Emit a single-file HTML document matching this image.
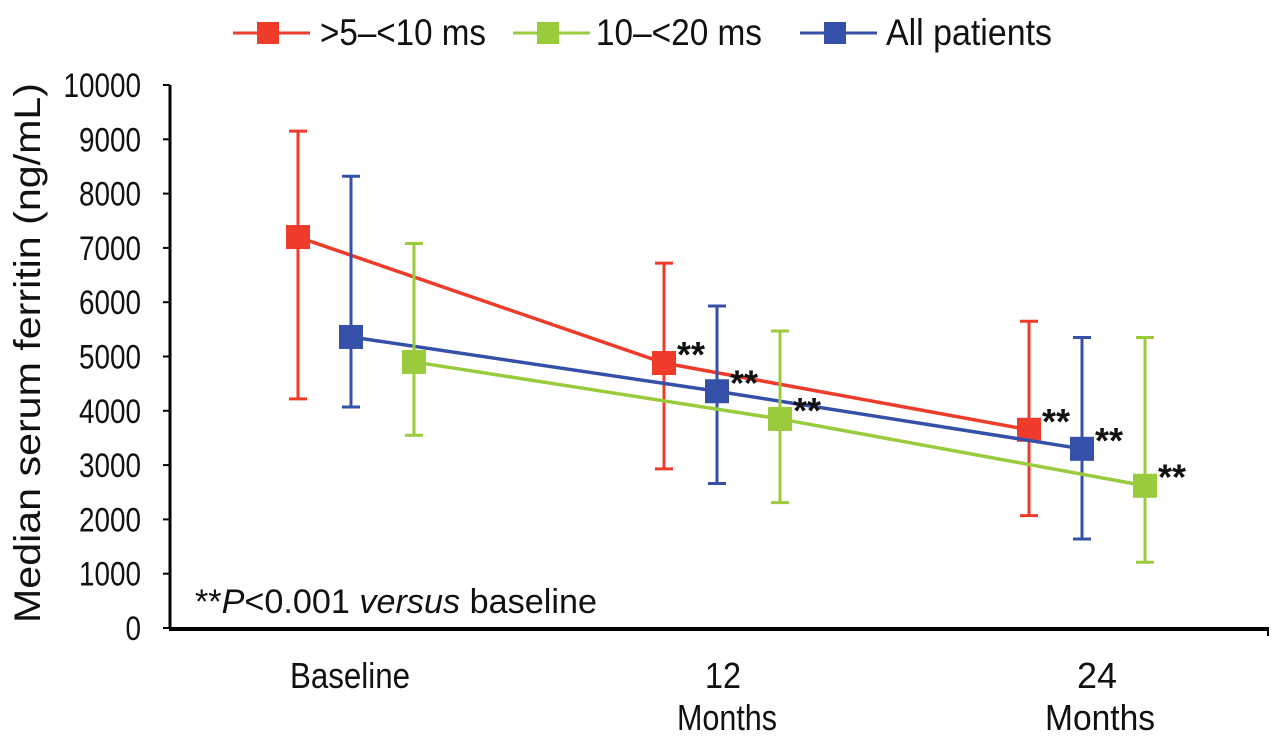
<!DOCTYPE html>
<html><head><meta charset="utf-8"><style>
body{margin:0;background:#fff;}
svg text{font-family:"Liberation Sans",sans-serif;fill:#111;}
</style></head><body>
<svg id="chart" width="1280" height="751" viewBox="0 0 1280 751"></svg>
<script>
const categories=["Baseline","12 Months","24 Months"];
const seriesNames=[">5\u2013<10 ms","10\u2013<20 ms","All patients"];
const redValues=[7200,4880,3650];
const redLow=[4220,2930,2070];
const redHigh=[9150,6720,5650];
const greenValues=[4900,3850,2620];
const greenLow=[3550,2310,1210];
const greenHigh=[7080,5470,5350];
const blueValues=[5360,4360,3300];
const blueLow=[4070,2660,1640];
const blueHigh=[8320,5930,5350];
const yTicks=[0,1000,2000,3000,4000,5000,6000,7000,8000,9000,10000];
const sig=[false,true,true];

const NS="http://www.w3.org/2000/svg";
const svg=document.getElementById('chart');
function el(t,a,p){const e=document.createElementNS(NS,t);for(const k in a)e.setAttribute(k,a[k]);(p||svg).appendChild(e);return e;}
const y=v=>628-v*0.0543;
const catX=[351,717,1082];
const x=(i,off)=>catX[i]+off;
let ax=el('line',{x1:170,y1:85,x2:170,y2:629,stroke:'#000','stroke-width':3});


ax=el('line',{x1:169,y1:629,x2:1269,y2:629,stroke:'#000','stroke-width':4});


el('line',{x1:1268,y1:629,x2:1268,y2:636,stroke:'#000','stroke-width':2});
yTicks.forEach(v=>{
  el('line',{x1:163,y1:y(v),x2:170,y2:y(v),stroke:'#000','stroke-width':2});
  const t=el('text',{x:0,y:0,'font-size':34,'text-anchor':'end',transform:`translate(141,${y(v)+12}) scale(0.82,1)`});
  t.textContent=v;
  
  
});
const yt=el('text',{x:-270,y:0,'font-size':37,textLength:540,lengthAdjust:'spacingAndGlyphs',transform:'translate(40,353) rotate(-90)'});
yt.textContent='Median serum ferritin (ng/mL)';


const xl=[[["Baseline",290,120]],[["12",705,36],["Months",677,100]],[["24",1077,40],["Months",1045,110]]];
xl.forEach((ls,i)=>ls.forEach((s,j)=>{
  const t=el('text',{x:s[1],y:688+j*42,'font-size':36,textLength:s[2],lengthAdjust:'spacingAndGlyphs'});
  t.textContent=s[0];
  
  
}));
const note=el('text',{x:195,y:613,'font-size':34,textLength:402,lengthAdjust:'spacingAndGlyphs'});
note.innerHTML='**<tspan font-style="italic">P</tspan>&lt;0.001 <tspan font-style="italic">versus</tspan> baseline';



const series=[
 {n:'red',c:'#ee3b2a',v:redValues,lo:redLow,hi:redHigh,off:-53},
 {n:'blue',c:'#3450a8',v:blueValues,lo:blueLow,hi:blueHigh,off:0},
 {n:'green',c:'#9acb3c',v:greenValues,lo:greenLow,hi:greenHigh,off:63}
];
series.forEach(s=>{
  const g=el('g',{});
  
  
  s.v.forEach((v,i)=>{
    const X=x(i,s.off);
    el('line',{x1:X,y1:y(s.lo[i]),x2:X,y2:y(s.hi[i]),stroke:s.c,'stroke-width':3},g);
    el('line',{x1:X-9,y1:y(s.lo[i]),x2:X+9,y2:y(s.lo[i]),stroke:s.c,'stroke-width':3},g);
    el('line',{x1:X-9,y1:y(s.hi[i]),x2:X+9,y2:y(s.hi[i]),stroke:s.c,'stroke-width':3},g);
  });
  const pts=s.v.map((v,i)=>x(i,s.off)+','+y(v)).join(' ');
  el('polyline',{points:pts,fill:'none',stroke:s.c,'stroke-width':3.5},g);
  s.v.forEach((v,i)=>{
    const X=x(i,s.off);
    const r=el('rect',{x:X-12,y:y(v)-12,width:24,height:24,fill:s.c},g);
    
    
    if(sig[i]){
      const t=el('text',{x:X+13,y:y(v)+4,'font-size':36,'font-weight':'bold'},g);
      t.textContent='**';
    }
  });
});
const legX=[233,513,800];
const legC=['#ee3b2a','#9acb3c','#3450a8'];
const legT=[[320,166],[596,166],[886,166]];
seriesNames.forEach((nm,i)=>{
  const g=el('g',{});
  
  
  el('line',{x1:legX[i],y1:33,x2:legX[i]+77,y2:33,stroke:legC[i],'stroke-width':3},g);
  el('rect',{x:legX[i]+24,y:22,width:22,height:22,fill:legC[i]},g);
  const t=el('text',{x:legT[i][0],y:45,'font-size':37,textLength:legT[i][1],lengthAdjust:'spacingAndGlyphs'},g);
  t.textContent=nm;
});
</script>
</body></html>
